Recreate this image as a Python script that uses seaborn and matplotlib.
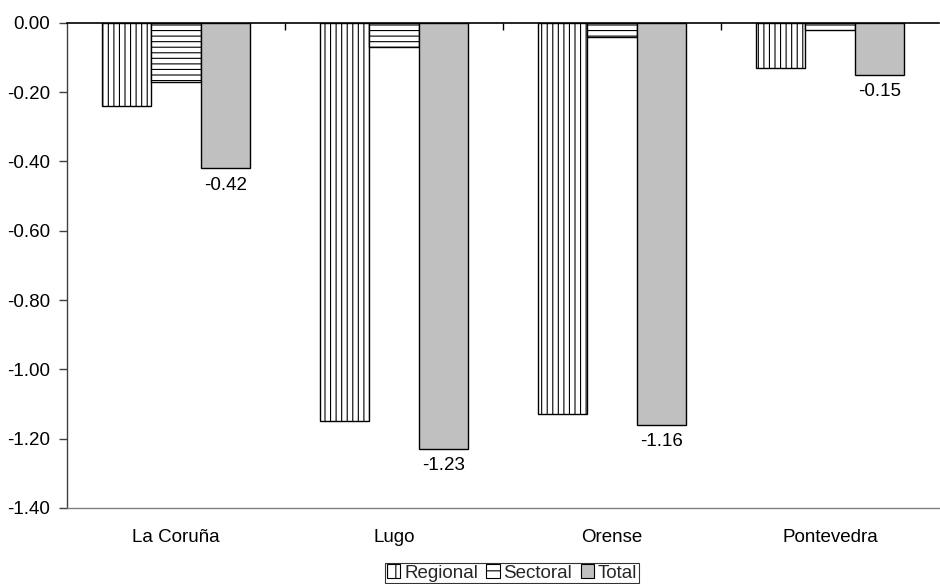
import matplotlib
matplotlib.use("Agg")
import matplotlib.pyplot as plt
import matplotlib.patches as mpatches
import seaborn as sns
import pandas as pd

provinces = ["La Coruña", "Lugo", "Orense", "Pontevedra"]
series = ["Regional", "Sectoral", "Total"]
regional = [-0.24, -1.15, -1.13, -0.13]
sectoral = [-0.17, -0.07, -0.04, -0.02]
total = [-0.42, -1.23, -1.16, -0.15]
y_ticks = [0.0, -0.2, -0.4, -0.6, -0.8, -1.0, -1.2, -1.4]

fills = {"Regional": "white", "Sectoral": "white", "Total": "#C0C0C0"}
hatches = {"Regional": "|||", "Sectoral": "---", "Total": ""}
legend_hatches = {"Regional": "||", "Sectoral": "--", "Total": ""}

df = pd.DataFrame({
    "Province": provinces * 3,
    "Series": [s for s in series for _ in provinces],
    "Value": regional + sectoral + total,
})

FS = 13.5

sns.set_theme(style="white")
plt.rcParams["font.family"] = ["Liberation Sans", "DejaVu Sans"]
plt.rcParams["axes.unicode_minus"] = False
plt.rcParams["hatch.linewidth"] = 0.8

fig = plt.figure(figsize=(9.4, 5.84), dpi=100)
ax = fig.add_axes([67 / 940, 1 - 508 / 584, 872 / 940, (508 - 22.7) / 584])

sns.barplot(data=df, x="Province", y="Value", hue="Series", order=provinces,
            hue_order=series, palette=fills, saturation=1, width=0.68,
            edgecolor="black", linewidth=1.0, errorbar=None, legend=False, ax=ax)

for name, cont in zip(series, ax.containers):
    for bar in cont:
        bar.set_hatch(hatches[name])
    if name == "Total":
        ax.bar_label(cont, labels=[f"{v:.2f}" for v in total], padding=6,
                     fontsize=FS, color="black")

ax.set_ylim(-1.4, 0)
ax.set_xlim(-0.5, 3.5)
ax.set_yticks(y_ticks)
ax.set_yticklabels([f"{t:.2f}" for t in y_ticks])
ax.set_xlabel("")
ax.set_ylabel("")

# category boundary ticks on the zero line
ax.set_xticks([0.5, 1.5, 2.5], minor=True)
ax.tick_params(axis="x", which="minor", top=True, bottom=False, direction="in",
               length=5, width=1, color="black")
ax.tick_params(axis="x", which="major", bottom=False, top=False, pad=9,
               labelsize=FS, labelcolor="black")
ax.tick_params(axis="y", left=True, length=6, width=1, color="#404040", pad=6,
               labelsize=FS, labelcolor="black")

ax.spines["right"].set_visible(False)
ax.spines["top"].set_color("black")
ax.spines["top"].set_linewidth(1.2)
ax.spines["left"].set_color("#404040")
ax.spines["left"].set_linewidth(1.0)
ax.spines["bottom"].set_color("#808080")
ax.spines["bottom"].set_linewidth(1.0)

handles = [mpatches.Patch(facecolor=fills[s], edgecolor="black", linewidth=0.8,
                          hatch=legend_hatches[s], label=s) for s in series]
leg = fig.legend(handles=handles, loc="center", ncol=3,
                 bbox_to_anchor=(512 / 940, 1 - 573 / 584), frameon=True,
                 fancybox=False, edgecolor="black", fontsize=FS,
                 handlelength=0.7, handleheight=0.7, handletextpad=0.2,
                 columnspacing=0.45, borderpad=0.1, borderaxespad=0)
leg.get_frame().set_linewidth(0.8)

fig.savefig("out.png", dpi=100)
